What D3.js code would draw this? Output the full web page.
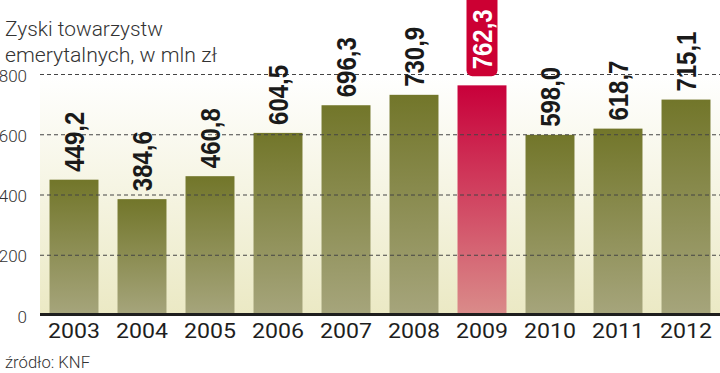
<!DOCTYPE html>
<html lang="pl">
<head>
    <meta charset="UTF-8">
    <title>Zyski towarzystw emerytalnych</title>
    <style>
        body { margin: 0; background: #fff; }
        svg { display: block; }
    </style>
</head>

<body>
    <div id="graph"></div>
    <script src="https://d3js.org/d3.v7.min.js"></script>

    <script>
        // Dane
        const YEARS = ["2003", "2004", "2005", "2006", "2007", "2008", "2009", "2010", "2011", "2012"];
        const VALUES = [449.2, 384.6, 460.8, 604.5, 696.3, 730.9, 762.3, 598.0, 618.7, 715.1];
        const HIGHLIGHT = "2009";
        const Y_TICKS = [0, 200, 400, 600, 800];

        const WIDTH = 720;
        const HEIGHT = 373;
        const PLOT_LEFT = 40;
        const PLOT_RIGHT = 720;

        const xScale = d3.scaleBand()
            .domain(YEARS)
            .range([PLOT_LEFT, PLOT_RIGHT])
            .paddingInner(0.28)
            .paddingOuter(0.14);

        const yScale = d3.scaleLinear()
            .domain([0, 800])
            .range([315, 74]);

        const fmt = v => v.toFixed(1).replace(".", ",");

        const svg = d3.select("#graph")
            .append("svg")
            .attr("width", WIDTH)
            .attr("height", HEIGHT);

        // gradienty
        const defs = svg.append("defs");
        function grad(id, top, bottom) {
            const g = defs.append("linearGradient")
                .attr("id", id)
                .attr("x1", 0).attr("y1", 0).attr("x2", 0).attr("y2", 1);
            g.append("stop").attr("offset", "0%").attr("stop-color", top);
            g.append("stop").attr("offset", "100%").attr("stop-color", bottom);
        }
        grad("bg", "#ffffff", "#ebe9c4");
        grad("olive", "#72762a", "#a6a57c");
        grad("red", "#c8003a", "#da8c8a");

        // tło
        svg.append("rect")
            .attr("x", PLOT_LEFT)
            .attr("y", yScale(800))
            .attr("width", PLOT_RIGHT - PLOT_LEFT)
            .attr("height", yScale(0) - yScale(800))
            .attr("fill", "url(#bg)");

        // słupki
        svg.selectAll("rect.bar")
            .data(YEARS)
            .enter()
            .append("rect")
            .attr("class", "bar")
            .attr("x", d => xScale(d))
            .attr("y", (d, i) => yScale(VALUES[i]))
            .attr("width", xScale.bandwidth())
            .attr("height", (d, i) => yScale(0) - yScale(VALUES[i]))
            .attr("fill", d => d === HIGHLIGHT ? "url(#red)" : "url(#olive)");

        // siatka + oś Y
        const yAxis = svg.append("g")
            .attr("transform", `translate(${PLOT_LEFT},0)`)
            .call(d3.axisLeft(yScale)
                .tickValues(Y_TICKS)
                .tickSize(-(PLOT_RIGHT - PLOT_LEFT))
                .tickPadding(13)
                .tickFormat(d3.format("d")));
        yAxis.select(".domain").remove();
        yAxis.selectAll(".tick line")
            .attr("stroke", "#444")
            .attr("stroke-dasharray", "4,3")
            .filter(d => d === 0).remove();
        yAxis.selectAll(".tick text")
            .attr("fill", "#333")
            .attr("dy", "0.42em")
            .style("font-family", "Roboto, sans-serif")
            .style("font-weight", 300)
            .style("font-size", "17px");

        // linia bazowa
        svg.append("line")
            .attr("x1", PLOT_LEFT)
            .attr("x2", PLOT_RIGHT)
            .attr("y1", yScale(0) - 0.5)
            .attr("y2", yScale(0) - 0.5)
            .attr("stroke", "#1e1e1e")
            .attr("stroke-width", 3);

        // etykiety lat
        svg.selectAll("text.year")
            .data(YEARS)
            .enter()
            .append("text")
            .attr("class", "year")
            .attr("x", d => xScale(d) + xScale.bandwidth() / 2)
            .attr("y", 338)
            .attr("text-anchor", "middle")
            .attr("fill", "#1e1e1e")
            .attr("textLength", 52)
            .attr("lengthAdjust", "spacingAndGlyphs")
            .style("font-family", "Roboto, sans-serif")
            .style("font-weight", 400)
            .style("font-size", "21px")
            .text(d => d);

        // ramka dla wyróżnionej wartości
        const hi = YEARS.indexOf(HIGHLIGHT);
        svg.append("rect")
            .attr("x", xScale(HIGHLIGHT) + xScale.bandwidth() / 2 - 15.5)
            .attr("y", -6)
            .attr("width", 31)
            .attr("height", yScale(VALUES[hi]) - 9 + 6)
            .attr("rx", 6)
            .attr("fill", "#cc0033");

        // etykiety wartości
        svg.selectAll("text.val")
            .data(YEARS)
            .enter()
            .append("text")
            .attr("class", "val")
            .attr("transform", (d, i) => {
                const cx = xScale(d) + xScale.bandwidth() / 2;
                const off = d === HIGHLIGHT ? 16 : 8;
                return `translate(${cx + 10},${yScale(VALUES[i]) - off}) rotate(-90)`;
            })
            .attr("fill", d => d === HIGHLIGHT ? "#ffffff" : "#1a1a1a")
            .attr("textLength", 60)
            .attr("lengthAdjust", "spacingAndGlyphs")
            .style("font-family", "'Liberation Sans', Arial, sans-serif")
            .style("font-weight", 700)
            .style("font-size", "27px")
            .text((d, i) => fmt(VALUES[i]));

        // tytuł
        const title = svg.append("text")
            .attr("fill", "#333")
            .attr("lengthAdjust", "spacingAndGlyphs")
            .style("font-family", "Roboto, sans-serif")
            .style("font-weight", 300)
            .style("font-size", "21px");
        title.append("tspan").attr("x", 5).attr("y", 36)
            .attr("textLength", 158).attr("lengthAdjust", "spacingAndGlyphs")
            .text("Zyski towarzystw");
        title.append("tspan").attr("x", 5).attr("y", 62)
            .attr("textLength", 212).attr("lengthAdjust", "spacingAndGlyphs")
            .text("emerytalnych, w mln zł");

        // źródło
        svg.append("text")
            .attr("x", 5)
            .attr("y", 368)
            .attr("fill", "#333")
            .attr("textLength", 85)
            .attr("lengthAdjust", "spacingAndGlyphs")
            .style("font-family", "Roboto, sans-serif")
            .style("font-weight", 300)
            .style("font-size", "16px")
            .text("źródło: KNF");
    </script>
</body>
</html>
